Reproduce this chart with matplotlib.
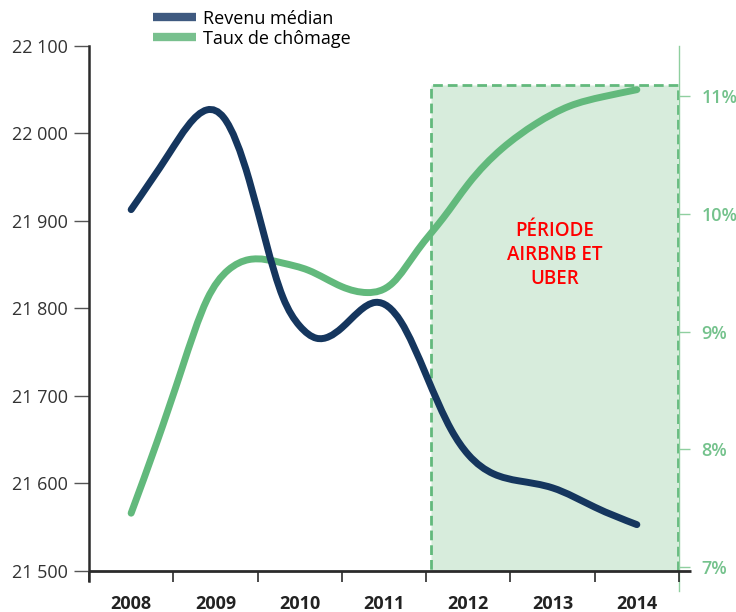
import matplotlib
matplotlib.use("Agg")
import numpy as np
import matplotlib.pyplot as plt
from matplotlib.path import Path
from matplotlib.patches import PathPatch, Rectangle
from matplotlib.lines import Line2D

plt.rcParams['font.family'] = ['Open Sans', 'DejaVu Sans']

# ---- data ----
years = [2008, 2009, 2010, 2011, 2012, 2013, 2014]
year_labels = ['2008', '2009', '2010', '2011', '2012', '2013', '2014']

revenu_x = [2008.0, 2008.45, 2008.9, 2009.1, 2009.4, 2009.8, 2010.0,
            2010.2, 2010.5, 2010.9, 2011.2, 2011.5, 2011.8, 2012.0, 2012.3,
            2012.6, 2013.0, 2013.5, 2014.0]
revenu_y = [21913, 21977, 22027, 22018, 21947, 21813, 21780,
            21766, 21778, 21807, 21785, 21724, 21661, 21633, 21611,
            21603, 21595, 21573, 21553]

chomage_x = [2008.0, 2008.3, 2008.6, 2008.9, 2009.15, 2009.4, 2009.8, 2010.1,
             2010.5, 2010.8, 2011.1, 2011.4, 2011.7, 2012.0, 2012.4, 2012.8,
             2013.2, 2013.6, 2014.0]
chomage_y = [7.46, 8.05, 8.68, 9.27, 9.52, 9.61, 9.58, 9.52,
             9.38, 9.33, 9.41, 9.69, 9.96, 10.25, 10.55, 10.76,
             10.91, 10.99, 11.05]

left_ticks = [21500, 21600, 21700, 21800, 21900, 22000, 22100]
left_labels = ['21 500', '21 600', '21 700', '21 800', '21 900', '22 000', '22 100']
right_ticks = [7, 8, 9, 10, 11]
right_labels = ['7%', '8%', '9%', '10%', '11%']

period_start, period_end = 2011.56, 2014.49
period_label = 'PÉRIODE\nAIRBNB ET\nUBER'
series_names = ['Revenu médian', 'Taux de chômage']

NAVY = '#15365e'
GREEN = '#62b97c'
GREEN_TXT = '#74c28c'
FILL = '#d7ecdc'


def smooth_path(xs, ys):
    """Natural cubic spline through the points, drawn as Bezier segments."""
    x = np.asarray(xs, float)
    y = np.asarray(ys, float)
    n = len(x)
    h = np.diff(x)
    A = np.zeros((n, n))
    b = np.zeros(n)
    A[0, 0] = 1
    A[-1, -1] = 1
    for i in range(1, n - 1):
        A[i, i - 1] = h[i - 1]
        A[i, i] = 2 * (h[i - 1] + h[i])
        A[i, i + 1] = h[i]
        b[i] = 6 * ((y[i + 1] - y[i]) / h[i] - (y[i] - y[i - 1]) / h[i - 1])
    M = np.linalg.solve(A, b)
    d = np.zeros(n)
    for i in range(n - 1):
        d[i] = (y[i + 1] - y[i]) / h[i] - h[i] * (2 * M[i] + M[i + 1]) / 6
    d[-1] = (y[-1] - y[-2]) / h[-1] + h[-1] * (M[-2] + 2 * M[-1]) / 6
    verts = [(x[0], y[0])]
    codes = [Path.MOVETO]
    for i in range(n - 1):
        verts += [(x[i] + h[i] / 3, y[i] + d[i] * h[i] / 3),
                  (x[i + 1] - h[i] / 3, y[i + 1] - d[i + 1] * h[i] / 3),
                  (x[i + 1], y[i + 1])]
        codes += [Path.CURVE4] * 3
    return Path(verts, codes)


fig = plt.figure(figsize=(7.36, 6.12), dpi=100)
ax = fig.add_axes([89 / 736, 41 / 612, 590 / 736, 525 / 612])
ax2 = ax.twinx()
ax.set_zorder(ax2.get_zorder() + 1)
ax.patch.set_visible(False)

ax.set_xlim(2007.5, 2014.5)
ax.set_ylim(21500, 22100)
ax2.set_ylim(6.97, 11.42)

# shaded period
rect = Rectangle((period_start, 6.945), period_end - period_start, 11.09 - 6.945,
                 facecolor=FILL, edgecolor=GREEN, lw=2, ls=(0, (3.5, 1.8)),
                 zorder=1)
ax2.add_patch(rect)
ax2.text(2013.02, 9.65, period_label, ha='center', va='center', color='#ff0000',
         fontsize=13.5, fontweight='semibold', linespacing=1.25, zorder=2)

# lines
ax2.add_patch(PathPatch(smooth_path(chomage_x, chomage_y), fill=False,
                        edgecolor=GREEN, lw=5, capstyle='round', zorder=3))
ax.add_patch(PathPatch(smooth_path(revenu_x, revenu_y), fill=False,
                       edgecolor=NAVY, lw=5, capstyle='round', zorder=3))

# spines
for s in ['top', 'right', 'bottom']:
    ax.spines[s].set_visible(False)
for s in ['top', 'left', 'bottom']:
    ax2.spines[s].set_visible(False)
ax.spines['left'].set_color('#2b2b2b')
ax.spines['left'].set_linewidth(1.8)
ax.spines['left'].set_bounds(21488, 22100)
ax2.spines['right'].set_color('#8fcf9f')
ax2.spines['right'].set_linewidth(1.0)
ax2.spines['right'].set_bounds(6.8, 11.42)
ax.plot([0, 1.02], [0, 0], transform=ax.transAxes, color='#2b2b2b', lw=2.0,
        clip_on=False, zorder=5, solid_capstyle='butt')

# x ticks: marks at boundaries, labels at centers
ax.set_xticks([y - 0.5 for y in years] + [years[-1] + 0.5])
ax.set_xticklabels([])
ax.tick_params(axis='x', which='major', length=8, width=1.2, color='#2b2b2b',
               direction='out')
ax.set_xticks(years, minor=True)
ax.set_xticklabels(year_labels, minor=True, fontsize=13, fontweight='bold',
                   color='#222222')
ax.tick_params(axis='x', which='minor', length=0, pad=17)

ax.set_yticks(left_ticks)
ax.set_yticklabels(left_labels, fontsize=13, color='#333333')
ax.tick_params(axis='y', length=11, width=1.0, color='#555555', pad=4)

ax2.set_yticks(right_ticks)
ax2.set_yticklabels(right_labels, fontsize=13, color=GREEN_TXT, fontweight='semibold')
ax2.tick_params(axis='y', length=8, width=1.0, color='#8fcf9f', pad=8)

handles = [Line2D([], [], color='#3f5a80', lw=6, solid_capstyle='butt'),
           Line2D([], [], color='#78c08e', lw=6, solid_capstyle='butt')]
fig.legend(handles, series_names, loc='upper left',
           bbox_to_anchor=(149 / 736, 1 - 6 / 612), frameon=False,
           fontsize=13, handlelength=2.4, handletextpad=0.4, labelspacing=0.12,
           borderaxespad=0, borderpad=0.2)

fig.savefig('out.png', dpi=100)
